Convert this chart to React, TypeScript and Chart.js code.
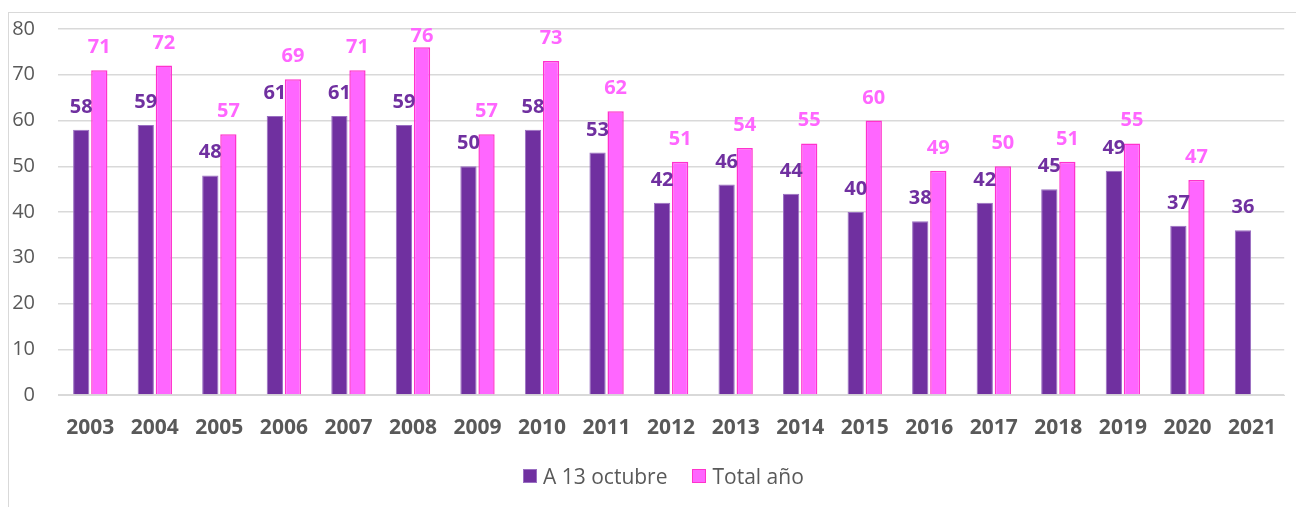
import React, { useEffect, useRef } from "react";
import { Chart, registerables } from "chart.js";
Chart.register(...registerables);

const years = ["2003","2004","2005","2006","2007","2008","2009","2010","2011","2012","2013","2014","2015","2016","2017","2018","2019","2020","2021"];
const aOctubre = [58, 59, 48, 61, 61, 59, 50, 58, 53, 42, 46, 44, 40, 38, 42, 45, 49, 37, 36];
const totalAnio = [71, 72, 57, 69, 71, 76, 57, 73, 62, 51, 54, 55, 60, 49, 50, 51, 55, 47, null];
const seriesNames = ["A 13 octubre", "Total año"];

const FONT = "'Open Sans', 'Noto Sans', sans-serif";
const PURPLE = "#7030A0";
const PINK = "#FF66FF";
const PURPLE_EDGE = "#9A6FC2";
const PINK_EDGE = "#FF33CC";
const labelColors = [PURPLE, PINK];

const barLabels = {
  id: "barLabels",
  afterDatasetsDraw(chart: any) {
    const ctx = chart.ctx;
    const minBase = chart.chartArea.top + 13;
    chart.data.datasets.forEach((ds: any, i: number) => {
      const meta = chart.getDatasetMeta(i);
      meta.data.forEach((el: any, j: number) => {
        const v = ds.data[j];
        if (v == null) return;
        ctx.save();
        ctx.font = `bold 20px ${FONT}`;
        ctx.fillStyle = labelColors[i];
        ctx.textAlign = "center";
        ctx.textBaseline = "alphabetic";
        ctx.fillText(String(v), el.x, Math.max(el.y - 17, minBase));
        ctx.restore();
      });
    });
  },
};

export default function App() {
  const ref = useRef<HTMLCanvasElement>(null);
  useEffect(() => {
    document.body.style.overflow = "hidden";
    const chart = new Chart(ref.current!, {
      type: "bar",
      data: {
        labels: years,
        datasets: [
          {
            label: seriesNames[0],
            data: aOctubre,
            backgroundColor: PURPLE,
            borderColor: PURPLE_EDGE,
            borderWidth: 1,
            categoryPercentage: 0.56,
            barPercentage: 0.9,
          },
          {
            label: seriesNames[1],
            data: totalAnio,
            backgroundColor: PINK,
            borderColor: PINK_EDGE,
            borderWidth: 1.5,
            categoryPercentage: 0.56,
            barPercentage: 0.9,
          },
        ],
      },
      options: {
        animation: false,
        responsive: true,
        maintainAspectRatio: false,
        layout: { padding: { top: 22, right: 1, left: 0, bottom: 55 } },
        plugins: {
          tooltip: { enabled: false },
          legend: { display: false },
        },
        scales: {
          x: {
            grid: { display: false, drawTicks: false },
            border: { display: true, color: "#D9D9D9", width: 1 },
            ticks: {
              color: "#595959",
              font: { family: FONT, size: 21, weight: "bold" },
              padding: 20,
              maxRotation: 0,
              autoSkip: false,
            },
            afterFit: (s: any) => { s.height = 57; },
          },
          y: {
            min: 0,
            max: 80,
            ticks: {
              stepSize: 10,
              color: "#595959",
              font: { family: FONT, size: 20 },
              padding: 23,
            },
            grid: { color: "#D9D9D9", lineWidth: 1.5, drawTicks: false },
            border: { display: false },
            afterFit: (s: any) => { s.width = 58; },
          },
        },
      },
      plugins: [barLabels],
    });
    return () => chart.destroy();
  }, []);

  const legendItem = (name: string, fill: string, edge: string, ml: number) => (
    <div style={{ display: "flex", alignItems: "center", marginLeft: ml }}>
      <span
        style={{
          display: "inline-block",
          width: 14,
          height: 14,
          boxSizing: "border-box",
          background: fill,
          border: `1.5px solid ${edge}`,
          marginRight: 6,
        }}
      />
      <span>{name}</span>
    </div>
  );

  return (
    <>
      <div
        style={{
          position: "absolute",
          left: 8,
          top: 12,
          width: 1288,
          height: 495,
          borderTop: "1px solid #D9D9D9",
          borderLeft: "1px solid #D9D9D9",
          boxSizing: "border-box",
        }}
      />
      <div style={{ position: "absolute", left: 0, top: -6, width: 1296, height: 513 }}>
        <canvas ref={ref} />
      </div>
      <div
        style={{
          position: "absolute",
          left: 523,
          top: 462,
          height: 28,
          display: "flex",
          alignItems: "center",
          fontFamily: FONT,
          fontSize: 21,
          color: "#595959",
          whiteSpace: "nowrap",
        }}
      >
        {legendItem(seriesNames[0], PURPLE, PURPLE_EDGE, 0)}
        {legendItem(seriesNames[1], PINK, PINK_EDGE, 25)}
      </div>
    </>
  );
}
